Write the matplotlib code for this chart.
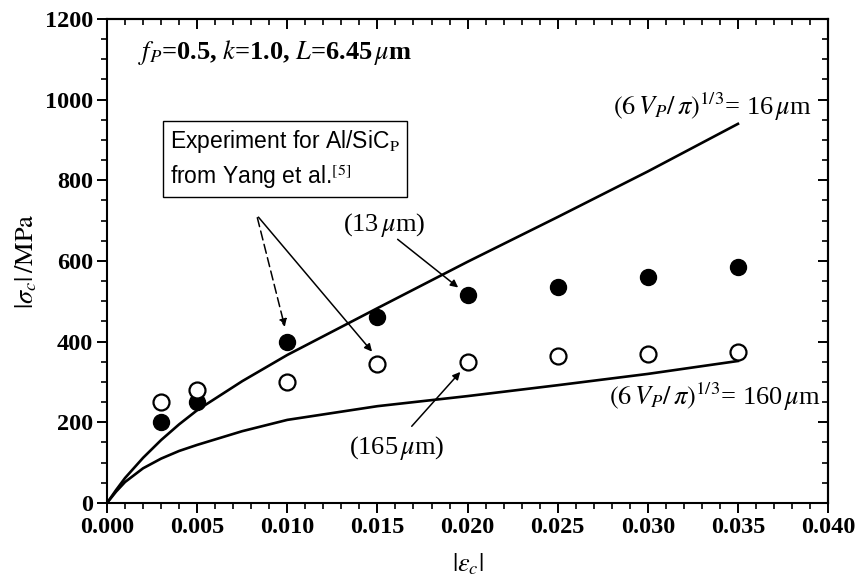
import numpy as np
import matplotlib
matplotlib.use('Agg')
import matplotlib.pyplot as plt
from matplotlib.ticker import MultipleLocator

# experimental points
strain = [0.003, 0.005, 0.010, 0.015, 0.020, 0.025, 0.030, 0.035]
stress_13 = [200, 250, 400, 460, 515, 535, 560, 585]
stress_165 = [250, 280, 300, 345, 350, 365, 370, 375]

# model curves
curve_x = [0.0, 0.0005, 0.001, 0.002, 0.003, 0.004, 0.005, 0.0075, 0.010, 0.015,
           0.020, 0.025, 0.030, 0.035]
curve_16 = [0, 32, 62, 112, 156, 195, 230, 302, 367, 483, 598, 709, 822, 940]
curve_160 = [0, 28, 52, 86, 110, 129, 144, 178, 206, 240, 265, 292, 320, 352]

plt.rcParams['mathtext.fontset'] = 'stix'
plt.rcParams['font.family'] = 'Liberation Serif'

fig = plt.figure(figsize=(8.59, 5.81), dpi=100)
ax = fig.add_axes([0.1246, 0.1343, 0.8394, 0.833])

ax.plot(curve_x, curve_16, color='black', linewidth=1.9)
ax.plot(curve_x, curve_160, color='black', linewidth=1.9)
ax.plot(strain, stress_13, 'o', color='black', markersize=11.5, zorder=3)
ax.plot(strain, stress_165, 'o', markerfacecolor='white', markeredgecolor='black',
        markeredgewidth=1.6, markersize=11.5, zorder=3)

ax.set_xlim(0, 0.040)
ax.set_ylim(0, 1200)
ax.xaxis.set_major_locator(MultipleLocator(0.005))
ax.xaxis.set_minor_locator(MultipleLocator(0.001))
ax.yaxis.set_major_locator(MultipleLocator(200))
ax.yaxis.set_minor_locator(MultipleLocator(50))
ax.xaxis.set_major_formatter(plt.FuncFormatter(lambda v, p: '%.3f' % v))

for s in ax.spines.values():
    s.set_linewidth(1.5)
ax.tick_params(which='major', direction='out', length=7, width=1.4, labelsize=17.5, pad=3)
ax.tick_params(which='minor', direction='out', length=4, width=1.2)
for label in ax.get_xticklabels() + ax.get_yticklabels():
    label.set_fontweight('bold')

# inward ticks on top and right
top = ax.secondary_xaxis('top')
top.xaxis.set_major_locator(MultipleLocator(0.005))
top.xaxis.set_minor_locator(MultipleLocator(0.001))
top.tick_params(which='major', direction='in', length=7, width=1.4, labeltop=False)
top.tick_params(which='minor', direction='in', length=4, width=1.2)
right = ax.secondary_yaxis('right')
right.yaxis.set_major_locator(MultipleLocator(200))
right.yaxis.set_minor_locator(MultipleLocator(50))
right.tick_params(which='major', direction='in', length=7, width=1.4, labelright=False)
right.tick_params(which='minor', direction='in', length=4, width=1.2)
top.spines['top'].set_linewidth(1.5)
right.spines['right'].set_linewidth(1.5)

ax.set_xlabel(r'$|\varepsilon_c|$', fontsize=19, labelpad=10)
ax.set_ylabel(r'$|\sigma_c|\,/\mathrm{MPa}$', fontsize=19, labelpad=4)

ax.text(0.0017, 1118, r'$f_P$=0.5, $k$=1.0, $L$=6.45$\,\mu$m', fontsize=19,
        fontweight='bold', va='center')
ax.text(0.0391, 982, r'$(6\,V_P/\,\pi)^{1/3}$= 16$\,\mu$m', fontsize=19, ha='right', va='center')
ax.text(0.0396, 262, r'$(6\,V_P/\,\pi)^{1/3}$= 160$\,\mu$m', fontsize=19, ha='right', va='center')

ax.text(0.0035, 852, 'Experiment for Al/SiC$_{\\mathrm{P}}$\nfrom Yang et al.$^{[5]}$',
        fontsize=16.5, family='Liberation Sans', va='center', ha='left', linespacing=1.3,
        bbox=dict(boxstyle='square,pad=0.3', facecolor='white', edgecolor='black', linewidth=1))

arr = dict(arrowstyle='-|>', color='black', linewidth=1.1, mutation_scale=11)
ax.annotate('', xy=(strain[2] - 0.0001, stress_13[2] + 30), xytext=(0.0083, 714),
            arrowprops=dict(arr, linestyle=(0, (6, 3))))
ax.annotate('', xy=(strain[3] - 0.0002, stress_165[3] + 25), xytext=(0.0083, 714),
            arrowprops=arr)
ax.annotate('', xy=(strain[4] - 0.0004, stress_13[4] + 15), xytext=(0.0160, 658),
            arrowprops=arr)
ax.annotate('', xy=(strain[4] - 0.0003, stress_165[4] - 20), xytext=(0.0168, 185),
            arrowprops=arr)
ax.text(0.0131, 690, r'(13$\,\mu$m)', fontsize=19, va='center')
ax.text(0.0134, 136, r'(165$\,\mu$m)', fontsize=19, va='center')

fig.savefig('out.png', dpi=100)
